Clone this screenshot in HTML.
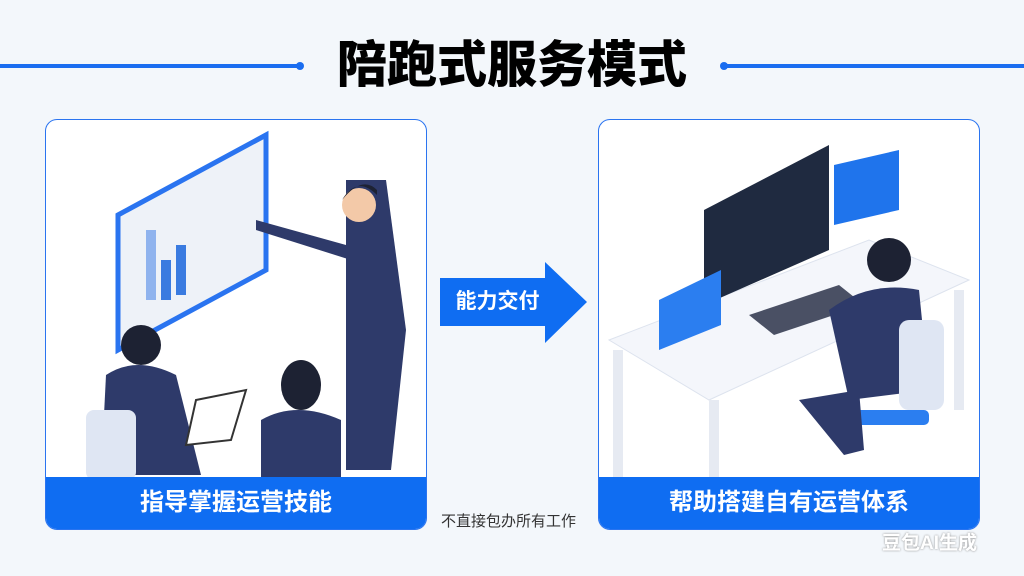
<!DOCTYPE html>
<html><head><meta charset="utf-8"><style>
*{margin:0;padding:0;box-sizing:border-box}
body{width:1024px;height:576px;overflow:hidden;background:#f3f7fb;font-family:"Liberation Sans","Noto Sans CJK SC",sans-serif;position:relative}
.a{position:absolute}
.panel{position:absolute;top:119px;width:382px;height:411px;border:1.5px solid #2a74f0;border-radius:12px;background:#fff;overflow:hidden}
.band{position:absolute;left:0;right:0;bottom:0;height:52px;background:#0f6df2;color:#fff;font-weight:bold;font-size:24px;text-align:center;line-height:52px}
</style></head><body>
<div class="a" style="left:0;top:64px;width:300px;height:4px;background:#1a6df0"></div>
<div class="a" style="left:296px;top:62px;width:8px;height:8px;border-radius:4px;background:#1a6df0"></div>
<div class="a" style="left:724px;top:64px;width:300px;height:4px;background:#1a6df0"></div>
<div class="a" style="left:720px;top:62px;width:8px;height:8px;border-radius:4px;background:#1a6df0"></div>
<div class="a" style="left:312px;top:34px;width:400px;text-align:center;font-size:50px;font-weight:900;color:#000;line-height:62px">陪跑式服务模式</div>

<div class="panel" style="left:45px">
<svg width="382" height="411" style="position:absolute;left:0;top:0">
<polygon points="72,95 220,15 220,150 72,230" fill="#eef2f8" stroke="#2a74f0" stroke-width="5"/>
<rect x="100" y="110" width="10" height="70" fill="#8fb3ee"/><rect x="115" y="140" width="10" height="40" fill="#3a7be0"/><rect x="130" y="125" width="10" height="50" fill="#3a7be0"/>
<path d="M300 60 h40 l20 150 -15 140 h-45 z" fill="#2e3a6a"/>
<circle cx="313" cy="85" r="17" fill="#f3c9a8"/><path d="M296 80 q15-25 35-5 v-5 q-15-15-35 10z" fill="#1d2233"/>
<path d="M210 100 l90 25 5 15 -95-30z" fill="#2e3a6a"/>
<path d="M60 255 q30-20 70 0 l25 100 h-100 z" fill="#2e3a6a"/>
<circle cx="95" cy="225" r="20" fill="#1d2233"/>
<path d="M215 300 q35-20 80 0 v60 h-80z" fill="#2e3a6a"/>
<ellipse cx="255" cy="265" rx="20" ry="25" fill="#1d2233"/>
<rect x="40" y="290" width="50" height="70" rx="8" fill="#dfe6f3"/>
<polygon points="150,280 200,270 185,320 140,325" fill="#fff" stroke="#333" stroke-width="2"/>
</svg>
<div class="band">指导掌握运营技能</div></div>

<div class="panel" style="left:598px">
<svg width="382" height="411" style="position:absolute;left:0;top:0">
<polygon points="10,220 270,120 370,160 110,280" fill="#f4f6fb" stroke="#dde3ee"/>
<rect x="14" y="230" width="10" height="130" fill="#e6eaf2"/><rect x="110" y="280" width="10" height="130" fill="#e6eaf2"/><rect x="355" y="170" width="10" height="120" fill="#e6eaf2"/>
<polygon points="105,90 230,25 230,130 105,185" fill="#1f2a40"/>
<polygon points="235,45 300,30 300,90 235,105" fill="#1f74ec"/>
<polygon points="60,180 122,150 122,205 60,230" fill="#2b7ef0"/>
<polygon points="150,195 240,165 265,185 175,215" fill="#4a5064"/>
<path d="M230 190 q40-30 90-20 l10 100 -80 10z" fill="#2e3a6a"/>
<circle cx="290" cy="140" r="22" fill="#1d2233"/>
<rect x="250" y="290" width="80" height="15" rx="5" fill="#2b7ef0"/>
<rect x="300" y="200" width="45" height="90" rx="10" fill="#dfe6f3"/>
<path d="M200 280 l60-10 5 60 -20 5z" fill="#2e3a6a"/>
</svg>
<div class="band">帮助搭建自有运营体系</div></div>

<svg class="a" style="left:440px;top:262px" width="148" height="82"><polygon points="0,16 105,16 105,0 147,40 105,81 105,64 0,64" fill="#0f6df2"/></svg>
<div class="a" style="left:440px;top:278px;width:115px;height:48px;line-height:48px;text-align:center;color:#fff;font-size:21px;font-weight:bold">能力交付</div>
<div class="a" style="left:441px;top:510px;width:150px;font-size:15px;color:#333">不直接包办所有工作</div>
<div class="a" style="left:882px;top:528px;font-size:19px;font-weight:bold;color:#fff;text-shadow:0 0 2px #888">豆包AI生成</div>
</body></html>
